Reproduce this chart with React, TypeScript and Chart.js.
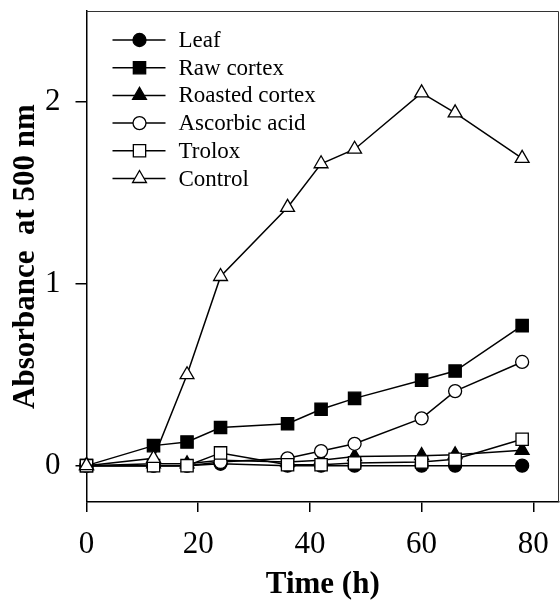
import React, { useEffect, useRef } from 'react';
import { Chart, registerables } from 'chart.js';

Chart.register(...registerables);

const TIMES = [0, 12, 18, 24, 36, 42, 48, 60, 66, 78];
const LEAF = [0, 0, 0, 0.01, 0, 0, 0, 0, 0, 0];
const RAW_CORTEX = [0, 0.11, 0.13, 0.21, 0.23, 0.31, 0.37, 0.47, 0.52, 0.77];
const ROASTED_CORTEX = [0, 0.01, 0.01, 0.03, 0.02, 0.03, 0.05, 0.055, 0.06, 0.084];
const ASCORBIC_ACID = [0, 0, 0, 0.02, 0.04, 0.08, 0.12, 0.26, 0.41, 0.57];
const TROLOX = [0, 0, 0, 0.07, 0.005, 0.005, 0.015, 0.02, 0.035, 0.145];
const CONTROL = [0, 0.04, 0.5, 1.04, 1.42, 1.66, 1.74, 2.05, 1.94, 1.69];
const SERIES_LABELS = ['Leaf', 'Raw cortex', 'Roasted cortex', 'Ascorbic acid', 'Trolox', 'Control'];
const X_TICKS = [0, 20, 40, 60, 80];
const Y_TICKS = [0, 1, 2];

const FAMILY = '"Liberation Serif", "Times New Roman", Times, serif';

function drawMarker(ctx: CanvasRenderingContext2D, style: string, x: number, y: number, r: number, fill: string) {
  ctx.beginPath();
  if (style === 'circle') {
    ctx.arc(x, y, r, 0, Math.PI * 2);
  } else if (style === 'rect') {
    const s = Math.SQRT1_2 * r;
    ctx.rect(x - s, y - s, 2 * s, 2 * s);
  } else {
    let rad = 0;
    ctx.moveTo(x + Math.sin(rad) * r, y - Math.cos(rad) * r);
    rad += (2 * Math.PI) / 3;
    ctx.lineTo(x + Math.sin(rad) * r, y - Math.cos(rad) * r);
    rad += (2 * Math.PI) / 3;
    ctx.lineTo(x + Math.sin(rad) * r, y - Math.cos(rad) * r);
    ctx.closePath();
  }
  ctx.fillStyle = fill;
  ctx.fill();
  ctx.lineWidth = 1.3;
  ctx.strokeStyle = '#000';
  ctx.stroke();
}

const framePlugin = {
  id: 'frame',
  afterDraw(chart: any) {
    const { ctx, chartArea } = chart;
    ctx.save();
    ctx.strokeStyle = '#333';
    ctx.lineWidth = 1;
    ctx.beginPath();
    ctx.moveTo(chartArea.left, chartArea.top + 0.5);
    ctx.lineTo(chartArea.right - 0.5, chartArea.top + 0.5);
    ctx.lineTo(chartArea.right - 0.5, chartArea.bottom);
    ctx.stroke();
    ctx.restore();
  },
};

const legendPlugin = {
  id: 'insideLegend',
  afterDraw(chart: any) {
    const { ctx, chartArea } = chart;
    ctx.save();
    ctx.font = `23px ${FAMILY}`;
    ctx.textBaseline = 'middle';
    ctx.textAlign = 'left';
    chart.data.datasets.forEach((ds: any, i: number) => {
      const y = chartArea.top + 29 + i * 27.7;
      const x0 = chartArea.left + 26;
      const x1 = chartArea.left + 79;
      const xm = chartArea.left + 53;
      ctx.strokeStyle = '#000';
      ctx.lineWidth = 1.5;
      ctx.beginPath();
      ctx.moveTo(x0, y);
      ctx.lineTo(x1, y);
      ctx.stroke();
      drawMarker(ctx, ds.pointStyle, xm, y, ds.pointRadius, ds.pointBackgroundColor);
      ctx.fillStyle = '#000';
      ctx.fillText(ds.label, chartArea.left + 92, y + 1);
    });
    ctx.restore();
  },
};

function makeSet(idx: number, values: number[], style: string, radius: number, filled: boolean, order: number) {
  return {
    label: SERIES_LABELS[idx],
    data: TIMES.map((t, i) => ({ x: t, y: values[i] })),
    showLine: true,
    borderColor: '#000',
    borderWidth: 1.5,
    pointStyle: style,
    pointRadius: radius,
    pointHoverRadius: radius,
    pointBackgroundColor: filled ? '#000' : '#fff',
    pointBorderColor: '#000',
    pointBorderWidth: 1.3,
    fill: false,
    tension: 0,
    clip: false,
    order,
  };
}

export default function App() {
  const ref = useRef<HTMLCanvasElement | null>(null);

  useEffect(() => {
    document.body.style.margin = '0';
    if (!ref.current) return;
    const chart = new Chart(ref.current, {
      type: 'scatter',
      data: {
        datasets: [
          makeSet(0, LEAF, 'circle', 6.5, true, 5),
          makeSet(1, RAW_CORTEX, 'rect', 8.7, true, 4),
          makeSet(2, ROASTED_CORTEX, 'triangle', 8, true, 3),
          makeSet(3, ASCORBIC_ACID, 'circle', 6.5, false, 2),
          makeSet(4, TROLOX, 'rect', 8.7, false, 1),
          makeSet(5, CONTROL, 'triangle', 8, false, 0),
        ] as any,
      },
      options: {
        animation: false,
        responsive: false,
        layout: { autoPadding: false, padding: { top: 11, right: 1, left: 0, bottom: 0 } },
        plugins: {
          legend: { display: false },
          tooltip: { enabled: false },
        },
        scales: {
          x: {
            type: 'linear',
            min: 0,
            max: 84.6,
            afterBuildTicks: (s: any) => {
              s.ticks = X_TICKS.map((v) => ({ value: v }));
            },
            afterFit: (s: any) => {
              s.height = 102;
              s.paddingLeft = 0;
              s.paddingRight = 0;
              s.paddingTop = 0;
              s.paddingBottom = 0;
            },
            grid: { drawOnChartArea: false, drawTicks: true, tickLength: 10, color: '#000', lineWidth: 1.5 },
            border: { display: true, color: '#000', width: 1.5 },
            ticks: { color: '#000', font: { family: FAMILY, size: 31 }, padding: 14, maxRotation: 0 },
            title: {
              display: true,
              text: 'Time (h)',
              color: '#000',
              font: { family: FAMILY, size: 31, weight: 'bold' },
              padding: { top: 0, bottom: 0 },
            },
          },
          y: {
            type: 'linear',
            min: -0.2,
            max: 2.5,
            afterBuildTicks: (s: any) => {
              s.ticks = Y_TICKS.map((v) => ({ value: v }));
            },
            afterFit: (s: any) => {
              s.width = 86.5;
              s.paddingTop = 0;
              s.paddingBottom = 0;
              s.paddingLeft = 0;
              s.paddingRight = 0;
            },
            grid: { drawOnChartArea: false, drawTicks: true, tickLength: 11, color: '#000', lineWidth: 1.5 },
            border: { display: true, color: '#000', width: 1.5 },
            ticks: { color: '#000', font: { family: FAMILY, size: 31 }, padding: 15 },
            title: {
              display: true,
              text: 'Absorbance  at 500 nm',
              color: '#000',
              font: { family: FAMILY, size: 31, weight: 'bold' },
              padding: { top: 7, bottom: 0 },
            },
          },
        },
      } as any,
      plugins: [framePlugin, legendPlugin],
    });
    return () => chart.destroy();
  }, []);

  return (
    <div style={{ width: 560, height: 604 }}>
      <canvas ref={ref} width={560} height={604} />
    </div>
  );
}
